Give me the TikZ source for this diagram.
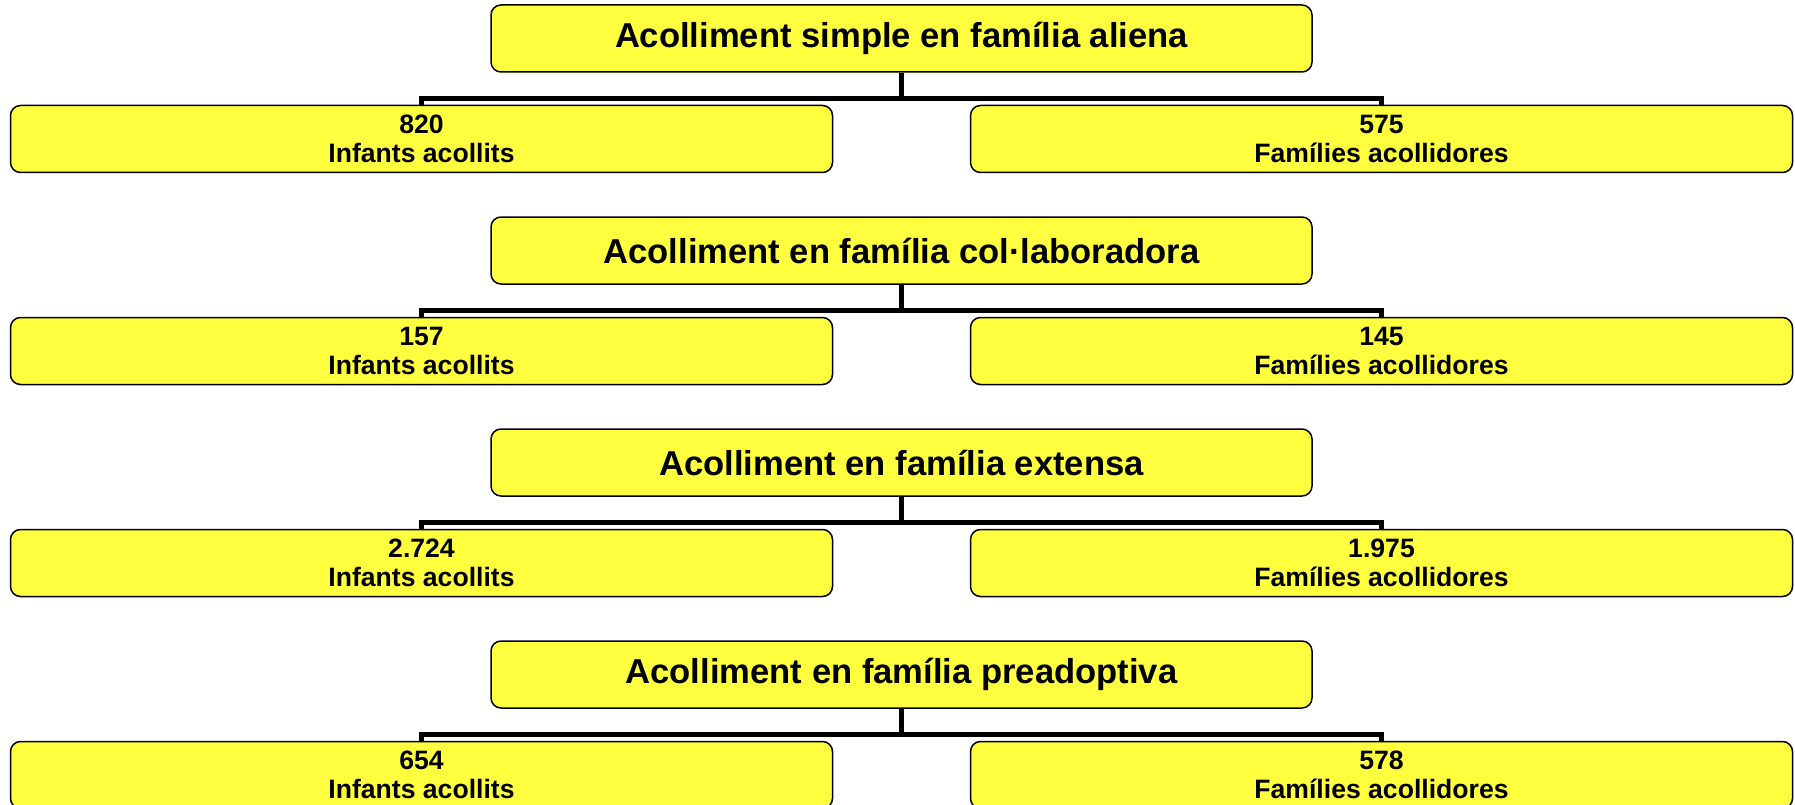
\documentclass[tikz,border=0pt]{standalone}
\usepackage{fontspec}
\setmainfont{Liberation Sans}
\usepackage{tikz}
\usetikzlibrary{positioning, shapes, arrows, trees}

\definecolor{boxyellow}{RGB}{255,255,64}

\tikzset{
  typebox/.style={draw, line width=1.5pt, rounded corners=10pt, fill=boxyellow,
    minimum width=821pt, minimum height=67pt,
    font=\fontsize{34.6}{40}\selectfont\bfseries},
  countbox/.style={draw, line width=1.5pt, rounded corners=10pt, fill=boxyellow,
    minimum width=822pt, minimum height=67pt, align=center, inner sep=0pt,
    font=\fontsize{26.6}{29}\selectfont\bfseries},
  bus/.style={line width=5pt, line join=miter,
    edge from parent path={(\tikzparentnode.south) -- ++(0,-26) -| (\tikzchildnode.north)}}
}

\begin{document}
\begin{tikzpicture}[x=1pt, y=1pt, level distance=100.5pt, sibling distance=960pt,
    edge from parent/.style={draw, bus}]
      \useasboundingbox (0,0) rectangle (1795,-805);

      \node [typebox] (aliena) at (901.5,-38.5) {Acolliment simple en família aliena}
      	child { node [countbox] (aliena-inf) {820\\Infants acollits} }
      	child { node [countbox] (aliena-fam) {575\\Famílies acollidores} };

      \node [typebox] (collab) at (901.5,-250.5) {Acolliment en família col·laboradora}
      	child { node [countbox] (collab-inf) {157\\Infants acollits} }
      	child { node [countbox] (collab-fam) {145\\Famílies acollidores} };

      \node [typebox] (extensa) at (901.5,-462.5) {Acolliment en família extensa}
      	child { node [countbox] (extensa-inf) {2.724\\Infants acollits} }
      	child { node [countbox] (extensa-fam) {1.975\\Famílies acollidores} };

      \node [typebox] (preadop) at (901.5,-674.5) {Acolliment en família preadoptiva}
      	child { node [countbox] (preadop-inf) {654\\Infants acollits} }
      	child { node [countbox] (preadop-fam) {578\\Famílies acollidores} };

    \end{tikzpicture}
\end{document}
